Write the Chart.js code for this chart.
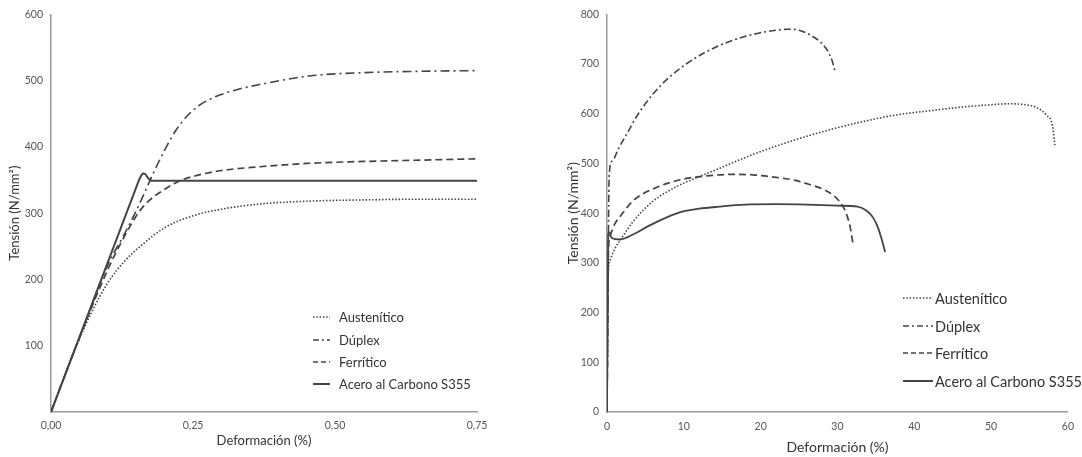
<!DOCTYPE html>
<html>
<head>
<meta charset="utf-8">
<script src="https://cdn.jsdelivr.net/npm/chart.js"></script>
<style>
  body { margin:0; background:#fff; width:1082px; height:457px; position:relative; overflow:hidden; font-family:Lato, "Open Sans", sans-serif; }
  .box { position:absolute; top:0; }
  .leg { position:absolute; color:#333; }
  .leg div { height:0; position:absolute; white-space:nowrap; }
  .leg svg { position:absolute; }
  .leg span { position:absolute; transform:translateY(-50%); }
</style>
</head>
<body>
<div class="box" style="left:0;width:520px;height:457px"><canvas id="graf-izq" width="520" height="457"></canvas></div>
<div class="box" style="left:540px;width:542px;height:457px"><canvas id="graf-der" width="542" height="457"></canvas></div>
<div class="leg" id="leyenda-izq" style="left:0;top:0"></div>
<div class="leg" id="leyenda-der" style="left:0;top:0"></div>
<script>
// ── DATOS: rango elástico (izq) ──
var nombres = ['Austenítico', 'Dúplex', 'Ferrítico', 'Acero al Carbono S355'];

var izqAustX = [0, 0.03, 0.05, 0.07, 0.1, 0.13, 0.16, 0.2, 0.25, 0.3, 0.37, 0.45, 0.55, 0.65, 0.75];
var izqAustY = [0, 68, 110, 148, 195, 228, 252, 278, 296, 306, 314, 318, 320, 321, 321];
var izqDupX  = [0, 0.05, 0.1, 0.127, 0.144, 0.16, 0.18, 0.2, 0.22, 0.24, 0.26, 0.285, 0.33, 0.367, 0.455, 0.55, 0.65, 0.75];
var izqDupY  = [0, 112, 222, 265, 293, 322, 360, 395, 425, 447, 462, 474, 487, 494, 507, 512, 514, 515];
var izqFerX  = [0, 0.05, 0.1, 0.12, 0.139, 0.155, 0.174, 0.204, 0.227, 0.257, 0.297, 0.368, 0.45, 0.55, 0.65, 0.75];
var izqFerY  = [0, 112, 215, 250, 280, 302, 320, 338, 349, 357, 364, 370, 375, 378, 380, 382];
var izqCarX  = [0, 0.155, 0.159, 0.162, 0.166, 0.171, 0.176, 0.75];
var izqCarY  = [0, 350, 357, 360, 359, 353, 349, 349];
var izqTicksX = [0, 0.25, 0.5, 0.75];

// ── DATOS: curva completa (der) ──
var derAustX = [0, 0.15, 0.4, 1, 2, 3.4, 5.9, 9, 12.4, 14.6, 19, 24, 28.8, 33, 37.4, 42, 46, 49, 52.4, 54.5, 56, 57.2, 58, 58.3];
var derAustY = [0, 270, 306, 328, 352, 383, 423, 453, 476, 490, 518, 545, 567, 583, 597, 606, 613, 617, 620, 618, 612, 597, 575, 537];
var derDupX  = [0, 0.3, 0.7, 1.5, 2.6, 4, 5.9, 8, 10.3, 12.5, 14.6, 17, 19.7, 22, 23.6, 25, 26.5, 27.8, 28.7, 29.3, 29.6, 29.7];
var derDupY  = [0, 480, 505, 530, 560, 598, 638, 672, 700, 721, 737, 751, 762, 768, 770, 768, 758, 744, 727, 707, 690, 684];
var derFerX  = [0, 0.2, 0.4, 1, 1.7, 3.4, 6.5, 9.8, 12.4, 16.3, 19, 22, 24.5, 26.5, 28, 29.3, 30.3, 31, 31.5, 31.8, 32];
var derFerY  = [0, 330, 355, 378, 393, 425, 452, 468, 474, 478, 477, 472, 466, 457, 449, 438, 423, 405, 382, 360, 340];
var derCarX  = [0, 0.16, 0.3, 0.6, 1.7, 3.5, 5.5, 8, 9.8, 12, 14.6, 18, 22, 26, 30, 32.6, 33.8, 34.6, 35.3, 35.8, 36.2];
var derCarY  = [0, 360, 362, 350, 347, 358, 375, 393, 403, 409, 413, 417, 418, 417, 415, 413, 405, 392, 370, 345, 322];

var colorLinea = '#444';
var colorEje = '#9a9a9a';
var colorTexto = '#555';

function puntos(xs, ys) {
  return xs.map(function(x, i) { return {x: x, y: ys[i]}; });
}

function serie(label, xs, ys, dash, ancho, modo) {
  return {
    label: label, data: puntos(xs, ys), showLine: true, borderColor: colorLinea,
    borderWidth: ancho, borderDash: dash, pointRadius: 0, fill: false,
    cubicInterpolationMode: modo || 'monotone', tension: modo === 'lineal' ? 0 : 0.4
  };
}

function fijarAncho(w) { return function(s) { s.width = w; }; }
function fijarAlto(h) { return function(s) { s.height = h; }; }

// ── gráfico izquierdo ──
new Chart(document.getElementById('graf-izq'), {
  type: 'scatter',
  data: { datasets: [
    serie(nombres[0], izqAustX, izqAustY, [1.5, 1.8], 1.6),
    serie(nombres[1], izqDupX, izqDupY, [9, 4, 2, 4], 1.6),
    serie(nombres[2], izqFerX, izqFerY, [7, 4], 1.7),
    serie(nombres[3], izqCarX, izqCarY, [], 2, 'lineal')
  ]},
  options: {
    responsive: false, animation: false, events: [],
    layout: { padding: { top: 13, right: 43, bottom: 0, left: 0 } },
    plugins: { legend: { display: false }, tooltip: { enabled: false } },
    scales: {
      x: {
        type: 'linear', min: 0, max: 0.75, afterFit: fijarAlto(45),
        afterBuildTicks: function(s) { s.ticks = izqTicksX.map(function(v) { return {value: v}; }); },
        grid: { color: 'transparent', drawTicks: false },
        border: { color: colorEje, width: 1.5 },
        ticks: { padding: 7, color: colorTexto, font: { family: 'Lato', size: 10.5 },
          callback: function(v) { return v.toFixed(2).replace('.', ','); } },
        title: { display: true, text: 'Deformación (%)', color: '#333', font: { family: 'Lato', size: 13 }, padding: { top: 0, bottom: 8 } }
      },
      y: {
        min: 0, max: 600, afterFit: fijarAncho(51),
        grid: { color: 'transparent', drawTicks: false },
        border: { color: colorEje, width: 1.5 },
        ticks: { stepSize: 100, padding: 8, color: colorTexto, font: { family: 'Lato', size: 10.5 },
          callback: function(v) { return v === 0 ? '' : v; } },
        title: { display: true, text: 'Tensión (N/mm²)', color: '#333', font: { family: 'Lato', size: 13 }, padding: { top: 7, bottom: 0 } }
      }
    }
  }
});

// ── gráfico derecho ──
new Chart(document.getElementById('graf-der'), {
  type: 'scatter',
  data: { datasets: [
    serie(nombres[0], derAustX, derAustY, [1.5, 1.8], 1.6),
    serie(nombres[1], derDupX, derDupY, [7, 3, 2, 3], 1.6),
    serie(nombres[2], derFerX, derFerY, [7, 4], 1.7),
    serie(nombres[3], derCarX, derCarY, [], 1.8)
  ]},
  options: {
    responsive: false, animation: false, events: [],
    layout: { padding: { top: 7, right: 10, bottom: 0, left: 0 } },
    plugins: { legend: { display: false }, tooltip: { enabled: false } },
    scales: {
      x: {
        type: 'linear', min: 0, max: 60, afterFit: fijarAlto(45),
        grid: { color: 'transparent', drawTicks: false },
        border: { color: colorEje, width: 1.5 },
        ticks: { stepSize: 10, padding: 8, color: colorTexto, font: { family: 'Lato', size: 10.5 } },
        title: { display: true, text: 'Deformación (%)', color: '#333', font: { family: 'Lato', size: 14 }, padding: { top: 0, bottom: 1 } }
      },
      y: {
        min: 0, max: 800, afterFit: fijarAncho(67),
        grid: { color: 'transparent', drawTicks: false },
        border: { color: colorEje, width: 1.5 },
        ticks: { stepSize: 100, padding: 8, color: colorTexto, font: { family: 'Lato', size: 10.5 } },
        title: { display: true, text: 'Tensión (N/mm²)', color: '#333', font: { family: 'Lato', size: 14 }, padding: { top: 25, bottom: 0 } }
      }
    }
  }
});

// ── leyendas ──
var trazos = ['1.5,1.8', '6,3,2,3', '5,3', ''];
function leyenda(id, x0, largo, xt, filas, tam) {
  var el = document.getElementById(id);
  var html = '';
  nombres.forEach(function(n, i) {
    var y = filas[i];
    html += '<div style="left:0;top:' + y + 'px">' +
      '<svg style="left:' + x0 + 'px;top:-2px" width="' + largo + '" height="4"><line x1="0" y1="2" x2="' + largo + '" y2="2" stroke="' + colorLinea +
      '" stroke-width="' + (i === 3 ? 2 : 1.6) + '" stroke-dasharray="' + trazos[i] + '"/></svg>' +
      '<span style="left:' + xt + 'px;font-size:' + tam + 'px">' + n + '</span></div>';
  });
  el.innerHTML = html;
}
leyenda('leyenda-izq', 313, 17, 339, [317, 340, 362, 384], 13);
leyenda('leyenda-der', 903, 30, 935, [298, 326, 353, 381], 14.5);
</script>
</body>
</html>
